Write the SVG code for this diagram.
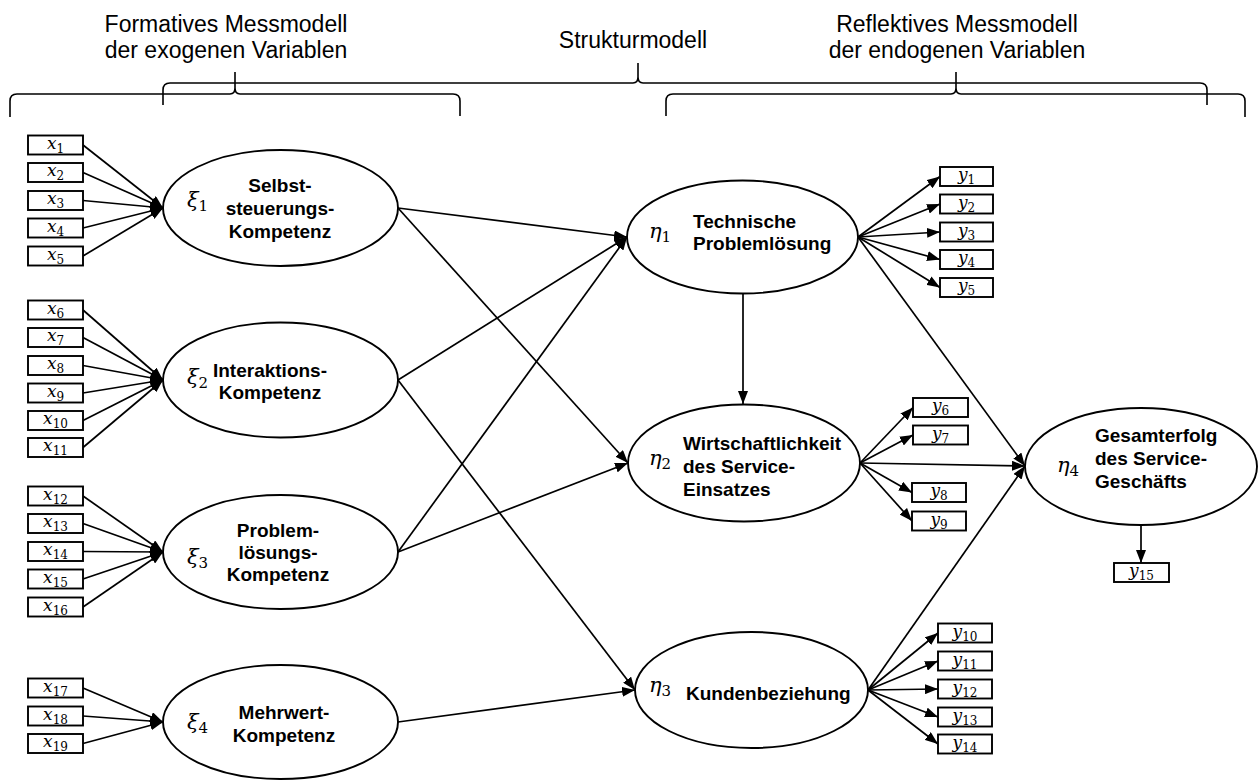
<svg xmlns="http://www.w3.org/2000/svg" width="1258" height="780" viewBox="0 0 1258 780">
  <defs>
    <marker id="arr" viewBox="0 0 13 10" refX="13" refY="5" markerWidth="13" markerHeight="10" markerUnits="userSpaceOnUse" orient="auto">
      <path d="M0,0 L13,5 L0,10 z" fill="#000"/>
    </marker>
    <style>
      .head { font-family: "Liberation Sans", Arial, sans-serif; font-size: 23px; fill: #000; text-anchor: middle; }
      .brace { fill: none; stroke: #000; stroke-width: 1.6; }
      .lv { fill: #fff; stroke: #000; stroke-width: 1.9; }
      .ind { fill: #fff; stroke: #000; stroke-width: 1.9; }
      .lbl { font-family: "Liberation Sans", Arial, sans-serif; font-size: 19px; font-weight: bold; fill: #000; }
      .c { text-anchor: middle; }
      .gk { font-family: "DejaVu Serif", "Liberation Serif", serif; font-size: 21px; font-style: italic; fill: #000; }
      .var { font-family: "DejaVu Serif", "Liberation Serif", serif; font-size: 17px; fill: #000; text-anchor: middle; }
      .it { font-style: italic; }
      .sub { font-size: 12px; font-style: normal; }
      .gsub { font-size: 15px; font-style: normal; }
      .edge { fill: none; stroke: #000; stroke-width: 1.7; marker-end: url(#arr); }
    </style>
  </defs>

  <!-- headings and braces -->
  <g id="headings">
    <text class="head" x="226" y="32">Formatives Messmodell</text>
    <text class="head" x="226" y="58">der exogenen Variablen</text>
    <text class="head" x="633" y="48">Strukturmodell</text>
    <text class="head" x="957" y="32">Reflektives Messmodell</text>
    <text class="head" x="957" y="58">der endogenen Variablen</text>
  </g>
  <g id="braces">
    <path class="brace" d="M10,117 L10,101 Q10,94 17,94 L230,94 Q235,94 235,88 L235,72 L235,88 Q235,94 240,94 L453,94 Q460,94 460,101 L460,116"/>
    <path class="brace" d="M163,105 L163,90 Q163,83 170,83 L633,83 Q638,83 638,77 L638,63 L638,77 Q638,83 643,83 L1200,83 Q1207,83 1207,90 L1207,105"/>
    <path class="brace" d="M666,116 L666,101 Q666,94 673,94 L951,94 Q956,94 956,88 L956,72 L956,88 Q956,94 961,94 L1238,94 Q1245,94 1245,101 L1245,117"/>
  </g>

  <!-- connectors -->
  <g id="connectors">
    <!-- formative indicators -> xi1 -->
    <line class="edge" x1="83" y1="145" x2="163" y2="208"/>
    <line class="edge" x1="83" y1="172.5" x2="163" y2="208"/>
    <line class="edge" x1="83" y1="200.5" x2="163" y2="208"/>
    <line class="edge" x1="83" y1="228" x2="163" y2="208"/>
    <line class="edge" x1="83" y1="256" x2="163" y2="208"/>
    <!-- -> xi2 -->
    <line class="edge" x1="83" y1="310" x2="163" y2="380"/>
    <line class="edge" x1="83" y1="337.5" x2="163" y2="380"/>
    <line class="edge" x1="83" y1="365.5" x2="163" y2="380"/>
    <line class="edge" x1="83" y1="393" x2="163" y2="380"/>
    <line class="edge" x1="83" y1="420.5" x2="163" y2="380"/>
    <line class="edge" x1="83" y1="447.5" x2="163" y2="380"/>
    <!-- -> xi3 -->
    <line class="edge" x1="83" y1="496" x2="163" y2="552"/>
    <line class="edge" x1="83" y1="523.5" x2="163" y2="552"/>
    <line class="edge" x1="83" y1="551.5" x2="163" y2="552"/>
    <line class="edge" x1="83" y1="579" x2="163" y2="552"/>
    <line class="edge" x1="83" y1="607" x2="163" y2="552"/>
    <!-- -> xi4 -->
    <line class="edge" x1="83" y1="688" x2="163" y2="722"/>
    <line class="edge" x1="83" y1="716" x2="163" y2="722"/>
    <line class="edge" x1="83" y1="743.5" x2="163" y2="722"/>

    <!-- structural paths -->
    <line class="edge" x1="398" y1="208" x2="627" y2="237"/>
    <line class="edge" x1="398" y1="208" x2="628" y2="463"/>
    <line class="edge" x1="398" y1="380" x2="627" y2="237"/>
    <line class="edge" x1="398" y1="380" x2="635" y2="690"/>
    <line class="edge" x1="398" y1="552" x2="627" y2="237"/>
    <line class="edge" x1="398" y1="552" x2="628" y2="463"/>
    <line class="edge" x1="398" y1="722" x2="635" y2="690"/>
    <line class="edge" x1="743" y1="293" x2="743" y2="404"/>
    <line class="edge" x1="858" y1="237" x2="1025" y2="466"/>
    <line class="edge" x1="860" y1="463" x2="1025" y2="466"/>
    <line class="edge" x1="868" y1="690" x2="1025" y2="466"/>

    <!-- reflective indicators from eta1 -->
    <line class="edge" x1="858" y1="237" x2="940" y2="176.5"/>
    <line class="edge" x1="858" y1="237" x2="940" y2="204"/>
    <line class="edge" x1="858" y1="237" x2="940" y2="232"/>
    <line class="edge" x1="858" y1="237" x2="940" y2="259.5"/>
    <line class="edge" x1="858" y1="237" x2="940" y2="287.5"/>
    <!-- from eta2 -->
    <line class="edge" x1="860" y1="463" x2="913" y2="407.5"/>
    <line class="edge" x1="860" y1="463" x2="913" y2="435"/>
    <line class="edge" x1="860" y1="463" x2="912" y2="492.5"/>
    <line class="edge" x1="860" y1="463" x2="912" y2="521"/>
    <!-- from eta3 -->
    <line class="edge" x1="868" y1="690" x2="938" y2="633"/>
    <line class="edge" x1="868" y1="690" x2="938" y2="661"/>
    <line class="edge" x1="868" y1="690" x2="938" y2="689"/>
    <line class="edge" x1="868" y1="690" x2="938" y2="717"/>
    <line class="edge" x1="868" y1="690" x2="938" y2="744"/>
    <!-- from eta4 -->
    <line class="edge" x1="1141" y1="525" x2="1141" y2="563"/>
  </g>

  <!-- formative indicators -->
  <g id="x1"><rect class="ind" x="28" y="135.5" width="55" height="19"/><text class="var" x="55.5" y="148.5"><tspan class="it">x</tspan><tspan class="sub" dy="4">1</tspan></text></g>
  <g id="x2"><rect class="ind" x="28" y="163" width="55" height="19"/><text class="var" x="55.5" y="176"><tspan class="it">x</tspan><tspan class="sub" dy="4">2</tspan></text></g>
  <g id="x3"><rect class="ind" x="28" y="191" width="55" height="19"/><text class="var" x="55.5" y="204"><tspan class="it">x</tspan><tspan class="sub" dy="4">3</tspan></text></g>
  <g id="x4"><rect class="ind" x="28" y="218.5" width="55" height="19"/><text class="var" x="55.5" y="231.5"><tspan class="it">x</tspan><tspan class="sub" dy="4">4</tspan></text></g>
  <g id="x5"><rect class="ind" x="28" y="246.5" width="55" height="19"/><text class="var" x="55.5" y="259.5"><tspan class="it">x</tspan><tspan class="sub" dy="4">5</tspan></text></g>
  <g id="x6"><rect class="ind" x="28" y="300.5" width="55" height="19"/><text class="var" x="55.5" y="313.5"><tspan class="it">x</tspan><tspan class="sub" dy="4">6</tspan></text></g>
  <g id="x7"><rect class="ind" x="28" y="328" width="55" height="19"/><text class="var" x="55.5" y="341"><tspan class="it">x</tspan><tspan class="sub" dy="4">7</tspan></text></g>
  <g id="x8"><rect class="ind" x="28" y="356" width="55" height="19"/><text class="var" x="55.5" y="369"><tspan class="it">x</tspan><tspan class="sub" dy="4">8</tspan></text></g>
  <g id="x9"><rect class="ind" x="28" y="383.5" width="55" height="19"/><text class="var" x="55.5" y="396.5"><tspan class="it">x</tspan><tspan class="sub" dy="4">9</tspan></text></g>
  <g id="x10"><rect class="ind" x="28" y="411" width="55" height="19"/><text class="var" x="55.5" y="424"><tspan class="it">x</tspan><tspan class="sub" dy="4">10</tspan></text></g>
  <g id="x11"><rect class="ind" x="28" y="438" width="55" height="19"/><text class="var" x="55.5" y="451"><tspan class="it">x</tspan><tspan class="sub" dy="4">11</tspan></text></g>
  <g id="x12"><rect class="ind" x="28" y="486.5" width="55" height="19"/><text class="var" x="55.5" y="499.5"><tspan class="it">x</tspan><tspan class="sub" dy="4">12</tspan></text></g>
  <g id="x13"><rect class="ind" x="28" y="514" width="55" height="19"/><text class="var" x="55.5" y="527"><tspan class="it">x</tspan><tspan class="sub" dy="4">13</tspan></text></g>
  <g id="x14"><rect class="ind" x="28" y="542" width="55" height="19"/><text class="var" x="55.5" y="555"><tspan class="it">x</tspan><tspan class="sub" dy="4">14</tspan></text></g>
  <g id="x15"><rect class="ind" x="28" y="569.5" width="55" height="19"/><text class="var" x="55.5" y="582.5"><tspan class="it">x</tspan><tspan class="sub" dy="4">15</tspan></text></g>
  <g id="x16"><rect class="ind" x="28" y="597.5" width="55" height="19"/><text class="var" x="55.5" y="610.5"><tspan class="it">x</tspan><tspan class="sub" dy="4">16</tspan></text></g>
  <g id="x17"><rect class="ind" x="28" y="678.5" width="55" height="19"/><text class="var" x="55.5" y="691.5"><tspan class="it">x</tspan><tspan class="sub" dy="4">17</tspan></text></g>
  <g id="x18"><rect class="ind" x="28" y="706.5" width="55" height="19"/><text class="var" x="55.5" y="719.5"><tspan class="it">x</tspan><tspan class="sub" dy="4">18</tspan></text></g>
  <g id="x19"><rect class="ind" x="28" y="734" width="55" height="19"/><text class="var" x="55.5" y="747"><tspan class="it">x</tspan><tspan class="sub" dy="4">19</tspan></text></g>

  <!-- exogenous latent variables -->
  <g id="xi1">
    <ellipse class="lv" cx="280.5" cy="208" rx="117.5" ry="58"/>
    <text class="gk" x="187" y="207">ξ<tspan class="gsub" dy="4">1</tspan></text>
    <text class="lbl c" x="280" y="192">Selbst-</text>
    <text class="lbl c" x="280" y="215">steuerungs-</text>
    <text class="lbl c" x="280" y="238">Kompetenz</text>
  </g>
  <g id="xi2">
    <ellipse class="lv" cx="280.5" cy="380" rx="117.5" ry="57.5"/>
    <text class="gk" x="187" y="384">ξ<tspan class="gsub" dy="4">2</tspan></text>
    <text class="lbl c" x="270" y="377">Interaktions-</text>
    <text class="lbl c" x="270" y="399">Kompetenz</text>
  </g>
  <g id="xi3">
    <ellipse class="lv" cx="280.5" cy="552" rx="117.5" ry="57"/>
    <text class="gk" x="187" y="564">ξ<tspan class="gsub" dy="4">3</tspan></text>
    <text class="lbl c" x="278" y="537">Problem-</text>
    <text class="lbl c" x="278" y="559">lösungs-</text>
    <text class="lbl c" x="278" y="581">Kompetenz</text>
  </g>
  <g id="xi4">
    <ellipse class="lv" cx="280.5" cy="722" rx="117.5" ry="57"/>
    <text class="gk" x="187" y="729">ξ<tspan class="gsub" dy="4">4</tspan></text>
    <text class="lbl c" x="284" y="719">Mehrwert-</text>
    <text class="lbl c" x="284" y="742">Kompetenz</text>
  </g>

  <!-- endogenous latent variables -->
  <g id="eta1">
    <ellipse class="lv" cx="742.5" cy="237" rx="115.5" ry="56.5"/>
    <text class="gk" x="649" y="238">η<tspan class="gsub" dy="4">1</tspan></text>
    <text class="lbl" x="693" y="228">Technische</text>
    <text class="lbl" x="693" y="250">Problemlösung</text>
  </g>
  <g id="eta2">
    <ellipse class="lv" cx="744" cy="463" rx="116" ry="58.5"/>
    <text class="gk" x="649" y="465">η<tspan class="gsub" dy="4">2</tspan></text>
    <text class="lbl" x="683" y="450">Wirtschaftlichkeit</text>
    <text class="lbl" x="683" y="473">des Service-</text>
    <text class="lbl" x="683" y="496">Einsatzes</text>
  </g>
  <g id="eta3">
    <ellipse class="lv" cx="751.5" cy="690" rx="116.5" ry="58"/>
    <text class="gk" x="649" y="692">η<tspan class="gsub" dy="4">3</tspan></text>
    <text class="lbl" x="686" y="700">Kundenbeziehung</text>
  </g>
  <g id="eta4">
    <ellipse class="lv" cx="1141" cy="466.5" rx="116" ry="58.5"/>
    <text class="gk" x="1057" y="472">η<tspan class="gsub" dy="4">4</tspan></text>
    <text class="lbl" x="1095" y="442">Gesamterfolg</text>
    <text class="lbl" x="1095" y="465">des Service-</text>
    <text class="lbl" x="1095" y="488">Geschäfts</text>
  </g>

  <!-- reflective indicators -->
  <g id="y1"><rect class="ind" x="940" y="167" width="53" height="19"/><text class="var" x="966.5" y="180"><tspan class="it">y</tspan><tspan class="sub" dy="4">1</tspan></text></g>
  <g id="y2"><rect class="ind" x="940" y="194.5" width="53" height="19"/><text class="var" x="966.5" y="207.5"><tspan class="it">y</tspan><tspan class="sub" dy="4">2</tspan></text></g>
  <g id="y3"><rect class="ind" x="940" y="222.5" width="53" height="19"/><text class="var" x="966.5" y="235.5"><tspan class="it">y</tspan><tspan class="sub" dy="4">3</tspan></text></g>
  <g id="y4"><rect class="ind" x="940" y="250" width="53" height="19"/><text class="var" x="966.5" y="263"><tspan class="it">y</tspan><tspan class="sub" dy="4">4</tspan></text></g>
  <g id="y5"><rect class="ind" x="940" y="278" width="53" height="19"/><text class="var" x="966.5" y="291"><tspan class="it">y</tspan><tspan class="sub" dy="4">5</tspan></text></g>
  <g id="y6"><rect class="ind" x="913" y="398" width="55" height="19"/><text class="var" x="940.5" y="411"><tspan class="it">y</tspan><tspan class="sub" dy="4">6</tspan></text></g>
  <g id="y7"><rect class="ind" x="913" y="425.5" width="55" height="19"/><text class="var" x="940.5" y="438.5"><tspan class="it">y</tspan><tspan class="sub" dy="4">7</tspan></text></g>
  <g id="y8"><rect class="ind" x="912" y="483" width="54" height="19"/><text class="var" x="939" y="496"><tspan class="it">y</tspan><tspan class="sub" dy="4">8</tspan></text></g>
  <g id="y9"><rect class="ind" x="912" y="511.5" width="54" height="19"/><text class="var" x="939" y="524.5"><tspan class="it">y</tspan><tspan class="sub" dy="4">9</tspan></text></g>
  <g id="y10"><rect class="ind" x="938" y="623.5" width="54" height="19"/><text class="var" x="965" y="636.5"><tspan class="it">y</tspan><tspan class="sub" dy="4">10</tspan></text></g>
  <g id="y11"><rect class="ind" x="938" y="651.5" width="54" height="19"/><text class="var" x="965" y="664.5"><tspan class="it">y</tspan><tspan class="sub" dy="4">11</tspan></text></g>
  <g id="y12"><rect class="ind" x="938" y="679.5" width="54" height="19"/><text class="var" x="965" y="692.5"><tspan class="it">y</tspan><tspan class="sub" dy="4">12</tspan></text></g>
  <g id="y13"><rect class="ind" x="938" y="707.5" width="54" height="19"/><text class="var" x="965" y="720.5"><tspan class="it">y</tspan><tspan class="sub" dy="4">13</tspan></text></g>
  <g id="y14"><rect class="ind" x="938" y="734.5" width="54" height="19"/><text class="var" x="965" y="747.5"><tspan class="it">y</tspan><tspan class="sub" dy="4">14</tspan></text></g>
  <g id="y15"><rect class="ind" x="1114" y="563" width="55" height="19"/><text class="var" x="1141.5" y="576"><tspan class="it">y</tspan><tspan class="sub" dy="4">15</tspan></text></g>
</svg>
